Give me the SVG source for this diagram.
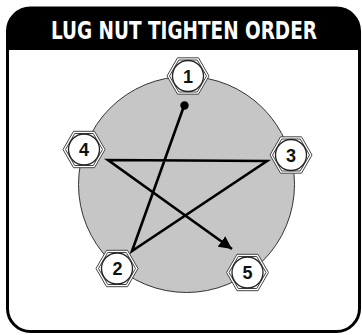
<svg xmlns="http://www.w3.org/2000/svg" width="362" height="335" viewBox="0 0 362 335">
<style>
.num{font-family:"Liberation Sans",Arial,sans-serif;font-weight:bold;font-size:18px;fill:#111;text-anchor:middle}
.hexo{fill:#fff;stroke:#444;stroke-width:1}
.hexi{fill:none;stroke:#444;stroke-width:1}
.ring{fill:#fff;stroke:#222;stroke-width:1.3}
.title{font-family:"Liberation Sans Narrow","DejaVu Sans Condensed","Roboto Condensed",sans-serif;font-weight:bold;font-size:24px;fill:#fff;text-anchor:middle;font-stretch:condensed}
</style>
<defs>
<g id="nut">
<polygon class="hexo" points="-21,0 -10.5,-18.2 10.5,-18.2 21,0 10.5,18.2 -10.5,18.2"/>
<polygon class="hexi" points="-18.5,0 -9.25,-16 9.25,-16 18.5,0 9.25,16 -9.25,16"/>
<circle class="ring" r="15.5"/>
</g>
<marker id="arrow" viewBox="0 0 10 10" refX="10" refY="5" markerWidth="5" markerHeight="5" orient="auto" markerUnits="strokeWidth">
<path d="M0,0 L10,5 L0,10 z" fill="#000"/>
</marker>
</defs>
<g id="frame">
<rect x="7.5" y="8" width="352" height="323.5" rx="23" ry="23" fill="#fff" stroke="#000" stroke-width="3"/>
<path d="M7.5,50 L7.5,31 A23,23 0 0 1 30.5,8 L336.5,8 A23,23 0 0 1 359.5,31 L359.5,50 Z" fill="#000"/>
<text class="title" x="184" y="39" textLength="266" lengthAdjust="spacingAndGlyphs">LUG NUT TIGHTEN ORDER</text>
</g>
<g id="wheel">
<circle cx="186.5" cy="184.5" r="108" fill="#c6c6c6" stroke="#333" stroke-width="1"/>
</g>
<g id="connectors">
<polyline points="184,106 132,251 267,161 108,160 232,249" fill="none" stroke="#000" stroke-width="2.6" stroke-linejoin="miter" marker-end="url(#arrow)"/>
<circle cx="184.5" cy="105.5" r="4.2" fill="#000"/>
</g>
<g id="nut1"><use href="#nut" x="188" y="76"/><text class="num" x="188" y="82.5">1</text></g>
<g id="nut2"><use href="#nut" x="117" y="268.5"/><text class="num" x="117.5" y="275">2</text></g>
<g id="nut3"><use href="#nut" x="291" y="155"/><text class="num" x="291" y="161.5">3</text></g>
<g id="nut4"><use href="#nut" x="84" y="149.5"/><text class="num" x="84" y="156">4</text></g>
<g id="nut5"><use href="#nut" x="247.5" y="272.5"/><text class="num" x="247.5" y="279">5</text></g>
</svg>
